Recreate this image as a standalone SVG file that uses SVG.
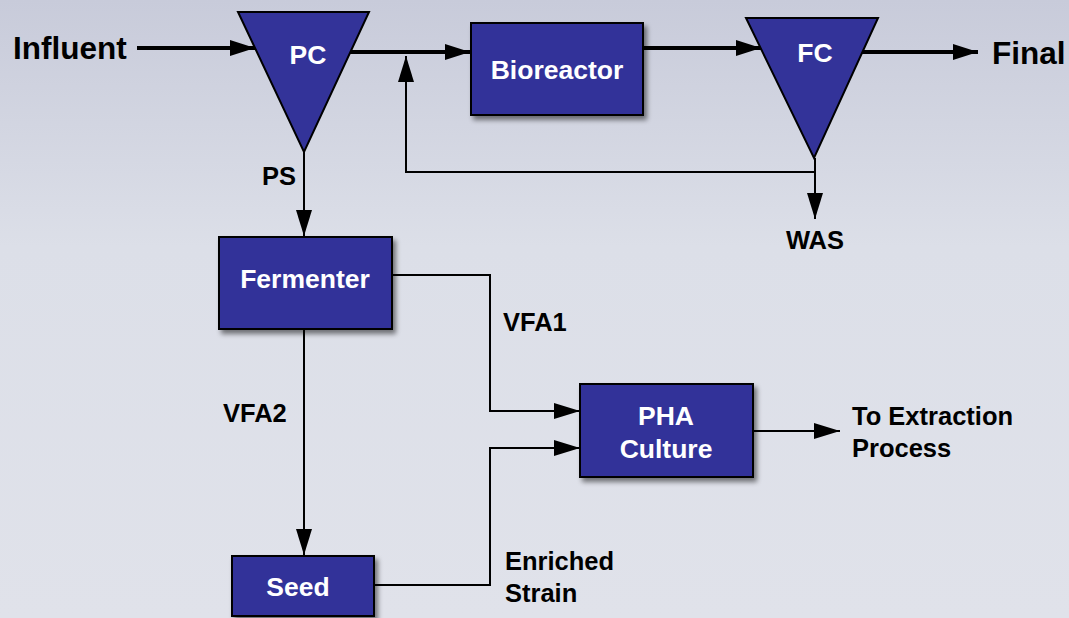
<svg xmlns="http://www.w3.org/2000/svg" width="1069" height="618" viewBox="0 0 1069 618">
<style>
.node{fill:#333399;stroke:#000;stroke-width:2}
.nt{fill:#fff;font-family:"Liberation Sans",Arial,sans-serif;font-weight:bold;font-size:26.5px;text-anchor:middle}
.lbl{fill:#000;font-family:"Liberation Sans",Arial,sans-serif;font-weight:bold;font-size:25.5px}
.big{fill:#000;font-family:"Liberation Sans",Arial,sans-serif;font-weight:bold;font-size:31.5px}
.thick{fill:none;stroke:#000;stroke-width:4}
.thin{fill:none;stroke:#000;stroke-width:2}
</style>
<defs>
<linearGradient id="bg" x1="0" y1="0" x2="0" y2="1">
<stop offset="0" stop-color="#c8cbda"/>
<stop offset="0.4" stop-color="#dcdfe8"/>
<stop offset="1" stop-color="#e0e2ea"/>
</linearGradient>
<filter id="sh" x="-10%" y="-10%" width="130%" height="140%">
<feGaussianBlur in="SourceAlpha" stdDeviation="2.5"/>
<feOffset dx="3" dy="4" result="b"/>
<feComponentTransfer><feFuncA type="linear" slope="0.5"/></feComponentTransfer>
<feMerge><feMergeNode/><feMergeNode in="SourceGraphic"/></feMerge>
</filter>
<marker id="ahB" markerUnits="userSpaceOnUse" markerWidth="26" markerHeight="18" refX="25" refY="8" orient="auto">
<path d="M0,0 L25,8 L0,16 Z" fill="#000"/>
</marker>
<marker id="ah" markerUnits="userSpaceOnUse" markerWidth="28" markerHeight="18" refX="26" refY="8" orient="auto">
<path d="M0,0 L26,8 L0,16 Z" fill="#000"/>
</marker>
</defs>
<rect width="1069" height="618" fill="url(#bg)"/>

<g id="connectors">
<line class="thick" x1="137" y1="48" x2="255" y2="48" marker-end="url(#ahB)"/>
<line class="thick" x1="350" y1="52" x2="470" y2="52" marker-end="url(#ahB)"/>
<polyline class="thin" points="815,172 406,172 406,56" marker-end="url(#ah)"/>
<line class="thick" x1="643" y1="48" x2="761" y2="48" marker-end="url(#ahB)"/>
<line class="thick" x1="860" y1="52" x2="978" y2="52" marker-end="url(#ahB)"/>
<line class="thin" x1="815" y1="158" x2="815" y2="219" marker-end="url(#ah)"/>
<line class="thin" x1="304" y1="152" x2="304" y2="236" marker-end="url(#ah)"/>
<line class="thin" x1="304" y1="329" x2="304" y2="555" marker-end="url(#ah)"/>
<polyline class="thin" points="392,275 490,275 490,411 580,411" marker-end="url(#ah)"/>
<polyline class="thin" points="374,585 490,585 490,448 580,448" marker-end="url(#ah)"/>
<line class="thin" x1="753" y1="431" x2="840" y2="431" marker-end="url(#ah)"/>
</g>

<g id="influent"><text class="big" x="13" y="59">Influent</text></g>
<g id="final"><text class="big" x="992" y="64">Final</text></g>

<g id="pc">
<polygon class="node" points="238,12 369,12 304,152"/>
<text class="nt" x="308" y="64">PC</text>
</g>
<g id="bioreactor">
<rect class="node" x="471" y="23" width="172" height="92" filter="url(#sh)"/>
<text class="nt" x="557" y="79">Bioreactor</text>
</g>
<g id="fc">
<polygon class="node" points="746,18 878,18 814,158"/>
<text class="nt" x="815" y="62">FC</text>
</g>
<g id="fermenter">
<rect class="node" x="219" y="237" width="173" height="92" filter="url(#sh)"/>
<text class="nt" x="305" y="288">Fermenter</text>
</g>
<g id="seed">
<rect class="node" x="232" y="556" width="142" height="60" filter="url(#sh)"/>
<text class="nt" x="298" y="596">Seed</text>
</g>
<g id="pha">
<rect class="node" x="580" y="384" width="173" height="93" filter="url(#sh)"/>
<text class="nt" x="666" y="425">PHA</text>
<text class="nt" x="666" y="458">Culture</text>
</g>

<g id="labels">
<text class="lbl" x="262" y="185">PS</text>
<text class="lbl" x="815" y="249" text-anchor="middle">WAS</text>
<text class="lbl" x="503" y="331">VFA1</text>
<text class="lbl" x="223" y="422">VFA2</text>
<text class="lbl" x="505" y="570">Enriched</text>
<text class="lbl" x="505" y="602">Strain</text>
<text class="lbl" x="852" y="425">To Extraction</text>
<text class="lbl" x="852" y="457">Process</text>
</g>
</svg>
